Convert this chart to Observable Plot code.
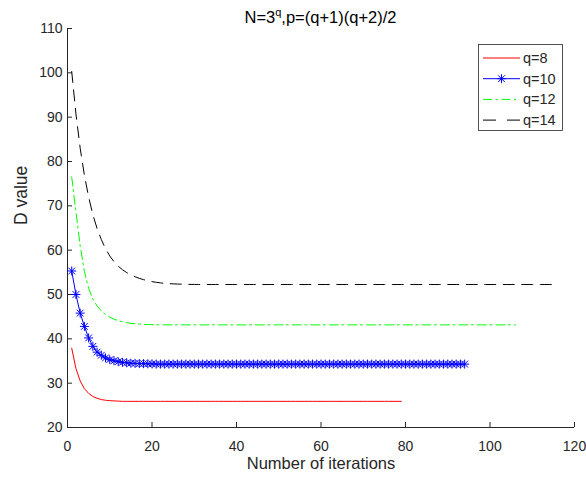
<!DOCTYPE html>
<html><head><meta charset="utf-8">
<script src="https://cdn.jsdelivr.net/npm/d3@7"></script>
<script src="https://cdn.jsdelivr.net/npm/@observablehq/plot@0.6"></script>
<style>body{margin:0;background:#fff;} svg{font-family:"Liberation Sans",Arial,sans-serif;}</style>
</head><body><div id="chart"></div>
<script>
const xTicks = [0, 20, 40, 60, 80, 100, 120];
const yTicks = [20, 30, 40, 50, 60, 70, 80, 90, 100, 110];
const seriesNames = ["q=8", "q=10", "q=12", "q=14"];
const titleMain = "N=3";
const titleSup = "q";
const titleRest = ",p=(q+1)(q+2)/2";
const xLabel = "Number of iterations";
const yLabel = "D value";

const q8 = [
  37.9, 33.3, 30.5, 28.75, 27.7, 27.0, 26.6, 26.3, 26.15, 26.05,
  26.0, 25.95, 25.9, 25.9, 25.9, 25.9, 25.9, 25.9, 25.9, 25.9,
  25.9, 25.9, 25.9, 25.9, 25.9, 25.9, 25.9, 25.9, 25.9, 25.9,
  25.9, 25.9, 25.9, 25.9, 25.9, 25.9, 25.9, 25.9, 25.9, 25.9,
  25.9, 25.9, 25.9, 25.9, 25.9, 25.9, 25.9, 25.9, 25.9, 25.9,
  25.9, 25.9, 25.9, 25.9, 25.9, 25.9, 25.9, 25.9, 25.9, 25.9,
  25.9, 25.9, 25.9, 25.9, 25.9, 25.9, 25.9, 25.9, 25.9, 25.9,
  25.9, 25.9, 25.9, 25.9, 25.9, 25.9, 25.9, 25.9, 25.9
];
const q10 = [
  55.3, 50.0, 45.8, 42.8, 40.2, 38.3, 37.0, 36.3, 35.7, 35.3,
  35.05, 34.85, 34.7, 34.6, 34.5, 34.46, 34.42, 34.4, 34.37, 34.35,
  34.3, 34.3, 34.3, 34.3, 34.3, 34.3, 34.3, 34.3, 34.3, 34.3,
  34.3, 34.3, 34.3, 34.3, 34.3, 34.3, 34.3, 34.3, 34.3, 34.3,
  34.3, 34.3, 34.3, 34.3, 34.3, 34.3, 34.3, 34.3, 34.3, 34.3,
  34.3, 34.3, 34.3, 34.3, 34.3, 34.3, 34.3, 34.3, 34.3, 34.3,
  34.3, 34.3, 34.3, 34.3, 34.3, 34.3, 34.3, 34.3, 34.3, 34.3,
  34.3, 34.3, 34.3, 34.3, 34.3, 34.3, 34.3, 34.3, 34.3, 34.3,
  34.3, 34.3, 34.3, 34.3, 34.3, 34.3, 34.3, 34.3, 34.3, 34.3,
  34.3, 34.3, 34.3, 34.3
];
const q12 = [
  76.5, 68.6, 61.0, 55.2, 51.4, 49.0, 47.4, 46.3, 45.5, 44.9,
  44.45, 44.1, 43.85, 43.65, 43.5, 43.4, 43.32, 43.27, 43.23, 43.2,
  43.18, 43.17, 43.16, 43.15, 43.15, 43.15, 43.15, 43.15, 43.15, 43.15,
  43.15, 43.15, 43.15, 43.15, 43.15, 43.15, 43.15, 43.15, 43.15, 43.15,
  43.15, 43.15, 43.15, 43.15, 43.15, 43.15, 43.15, 43.15, 43.15, 43.15,
  43.15, 43.15, 43.15, 43.15, 43.15, 43.15, 43.15, 43.15, 43.15, 43.15,
  43.15, 43.15, 43.15, 43.15, 43.15, 43.15, 43.15, 43.15, 43.15, 43.15,
  43.15, 43.15, 43.15, 43.15, 43.15, 43.15, 43.15, 43.15, 43.15, 43.15,
  43.15, 43.15, 43.15, 43.15, 43.15, 43.15, 43.15, 43.15, 43.15, 43.15,
  43.15, 43.15, 43.15, 43.15, 43.15, 43.15, 43.15, 43.15, 43.15, 43.15,
  43.15, 43.15, 43.15, 43.15, 43.15, 43.15
];
const q14 = [
  100.3, 90.7, 83.0, 76.9, 72.0, 68.0, 64.9, 62.4, 60.35, 58.7,
  57.4, 56.4, 55.6, 54.95, 54.4, 54.0, 53.65, 53.35, 53.1, 52.9,
  52.75, 52.62, 52.52, 52.45, 52.4, 52.36, 52.33, 52.3, 52.28, 52.27,
  52.26, 52.25, 52.25, 52.25, 52.25, 52.25, 52.25, 52.25, 52.25, 52.25,
  52.25, 52.25, 52.25, 52.25, 52.25, 52.25, 52.25, 52.25, 52.25, 52.25,
  52.25, 52.25, 52.25, 52.25, 52.25, 52.25, 52.25, 52.25, 52.25, 52.25,
  52.25, 52.25, 52.25, 52.25, 52.25, 52.25, 52.25, 52.25, 52.25, 52.25,
  52.25, 52.25, 52.25, 52.25, 52.25, 52.25, 52.25, 52.25, 52.25, 52.25,
  52.25, 52.25, 52.25, 52.25, 52.25, 52.25, 52.25, 52.25, 52.25, 52.25,
  52.25, 52.25, 52.25, 52.25, 52.25, 52.25, 52.25, 52.25, 52.25, 52.25,
  52.25, 52.25, 52.25, 52.25, 52.25, 52.25, 52.25, 52.25, 52.25, 52.25,
  52.25, 52.25, 52.25, 52.25, 52.25, 52.25
];

const allSeries = [q8, q10, q12, q14];
const rows = [];
allSeries.forEach((arr, i) => arr.forEach((v, j) => rows.push({series: seriesNames[i], x: j + 1, y: v})));
const bySeries = name => rows.filter(d => d.series === name);

const styles = {
  "q=8":  {stroke: "#ff0000", dash: null},
  "q=10": {stroke: "#0000ff", dash: null},
  "q=12": {stroke: "#00ff00", dash: "9,3.5,2,4"},
  "q=14": {stroke: "#000000", dash: "11,7.5"}
};

const W = 586, H = 481, mL = 67, mR = 12, mT = 28, mB = 54;
const plotW = W - mL - mR, plotH = H - mT - mB;
const ink = "#262626";

const asterisk = {
  draw(ctx, size) {
    const r = Math.sqrt(size / Math.PI);
    const d = r * 0.75;
    ctx.moveTo(-r, 0); ctx.lineTo(r, 0);
    ctx.moveTo(0, -r); ctx.lineTo(0, r);
    ctx.moveTo(-d, -d); ctx.lineTo(d, d);
    ctx.moveTo(-d, d); ctx.lineTo(d, -d);
  }
};

const lineMarks = seriesNames.map(name => Plot.line(bySeries(name), {
  x: "x", y: "y", stroke: styles[name].stroke, strokeWidth: 1,
  strokeDasharray: styles[name].dash
}));

const chart = Plot.plot({
  width: W, height: H,
  marginLeft: mL, marginRight: mR, marginTop: mT, marginBottom: mB,
  style: {fontFamily: '"Liberation Sans", Arial, sans-serif', fontSize: "14px", background: "#fff"},
  x: {domain: [0, 120]},
  y: {domain: [20, 110]},
  marks: [
    Plot.axisX(xTicks, {tickSize: 0, tickPadding: 14, fontSize: 14, fill: ink, label: null}),
    Plot.axisY(yTicks, {tickSize: 0, tickPadding: 5, fontSize: 14, fill: ink, label: null}),
    Plot.tickX(xTicks, {x: d => d, stroke: ink, strokeWidth: 1, insetTop: plotH - 5}),
    Plot.tickY(yTicks, {y: d => d, stroke: ink, strokeWidth: 1, insetRight: plotW - 5}),
    Plot.ruleX([0], {stroke: ink, strokeWidth: 1}),
    Plot.ruleY([20], {stroke: ink, strokeWidth: 1}),
    ...lineMarks,
    Plot.dot(bySeries("q=10"), {x: "x", y: "y", symbol: asterisk, r: 4.5, stroke: "#0000ff", strokeWidth: 1, fill: "none"}),
    Plot.text([xLabel], {frameAnchor: "bottom", dy: 41, fontSize: 16.5, fill: ink, text: d => d}),
    Plot.text([yLabel], {frameAnchor: "left", dx: -46, dy: -3, rotate: -90, fontSize: 17.5, fill: ink, text: d => d})
  ]
});

const svg = d3.select(chart);
const t = svg.append("text")
  .attr("x", mL + plotW / 2).attr("y", 23)
  .attr("text-anchor", "middle")
  .attr("fill", "#000")
  .style("font-size", "16.5px");
t.append("tspan").text(titleMain);
t.append("tspan").attr("dy", -7).style("font-size", "11px").text(titleSup);
t.append("tspan").attr("dy", 7).text(titleRest);

const lg = svg.append("g");
lg.append("rect").attr("x", 478.5).attr("y", 44.5).attr("width", 84).attr("height", 86)
  .attr("fill", "#fff").attr("stroke", ink).attr("stroke-width", 0.8);
seriesNames.forEach((name, i) => {
  const y = 58 + i * 20.7;
  lg.append("line").attr("x1", 483).attr("x2", 520).attr("y1", y).attr("y2", y)
    .attr("stroke", styles[name].stroke).attr("stroke-width", 1)
    .attr("stroke-dasharray", name === "q=14" ? "13,11" : styles[name].dash);
  if (name === "q=10") {
    lg.append("path").attr("transform", `translate(501.5,${y})`)
      .attr("d", d3.symbol(asterisk, Math.PI * 4.5 * 4.5)())
      .attr("stroke", "#0000ff").attr("fill", "none").attr("stroke-width", 1);
  }
  lg.append("text").attr("x", 523).attr("y", y).attr("dy", "0.35em")
    .attr("text-anchor", "start")
    .attr("fill", ink).style("font-size", "14.5px").text(name);
});

document.getElementById("chart").appendChild(chart);
</script>
</body></html>
